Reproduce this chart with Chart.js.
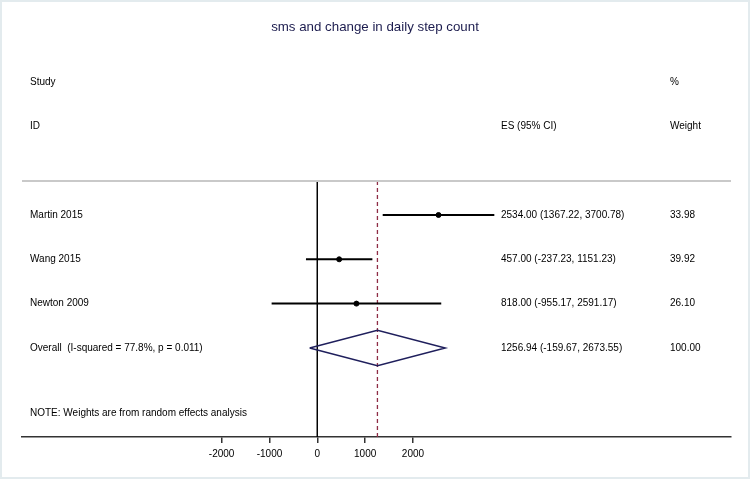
<!DOCTYPE html>
<html>
<head>
<meta charset="utf-8">
<script src="https://cdn.jsdelivr.net/npm/chart.js@4"></script>
<style>
  body { margin: 0; background: #fff; }
  #wrap { width: 750px; height: 479px; }
</style>
</head>
<body>
<div id="wrap"><canvas id="forest" width="750" height="479"></canvas></div>
<script>
// data
const studies = ["Martin 2015", "Wang 2015", "Newton 2009"];
const effect = [2534.00, 457.00, 818.00];
const ciLow = [1367.22, -237.23, -955.17];
const ciHigh = [3700.78, 1151.23, 2591.17];
const weights = ["33.98", "39.92", "26.10"];

const overallLabel = "Overall  (I-squared = 77.8%, p = 0.011)";
const overall = [1256.94, -159.67, 2673.55]; // es, low, high
const overallWeight = "100.00";

const tickValues = [-2000, -1000, 0, 1000, 2000];
const titleText = "sms and change in daily step count";
const noteText = "NOTE: Weights are from random effects analysis";

const FONT = "Liberation Sans, Arial, sans-serif";

function fmt(es, lo, hi) {
    return es.toFixed(2) + " (" + lo.toFixed(2) + ", " + hi.toFixed(2) + ")";
}

const overallRow = studies.length + 1;
const datasets = [];

// CI lines
studies.forEach((s, i) => {
    datasets.push({
        type: "line",
        data: [{ x: ciLow[i], y: i + 1 }, { x: ciHigh[i], y: i + 1 }],
        borderColor: "#000",
        borderWidth: 2,
        pointRadius: 0
    });
});

// point estimates
datasets.push({
    type: "scatter",
    data: studies.map((s, i) => ({ x: effect[i], y: i + 1 })),
    backgroundColor: "#000",
    borderColor: "#000",
    pointRadius: 2.5
});

// overall diamond
const h = 0.4;
datasets.push({
    type: "line",
    data: [
        { x: overall[1], y: overallRow },
        { x: overall[0], y: overallRow - h },
        { x: overall[2], y: overallRow },
        { x: overall[0], y: overallRow + h },
        { x: overall[1], y: overallRow }
    ],
    borderColor: "#1f1f5c",
    borderWidth: 1.5,
    pointRadius: 0,
    tension: 0
});

// null line and overall effect line
datasets.push({
    type: "line",
    data: [{ x: 0, y: 0.233 }, { x: 0, y: 6.01 }],
    borderColor: "#000",
    borderWidth: 1,
    pointRadius: 0
});
datasets.push({
    type: "line",
    data: [{ x: overall[0], y: 0.233 }, { x: overall[0], y: 6.01 }],
    borderColor: "#8e2c45",
    borderWidth: 1.3,
    borderDash: [4, 3],
    pointRadius: 0
});

const textPlugin = {
    id: "forestText",
    afterDraw(chart) {
        const ctx = chart.ctx;
        const y = chart.scales.y;
        const area = chart.chartArea;
        ctx.save();

        // outer light frame
        ctx.strokeStyle = "#e3ebee";
        ctx.lineWidth = 2;
        ctx.strokeRect(1, 1, 748, 477);

        // top separator
        ctx.strokeStyle = "#c9c9c9";
        ctx.lineWidth = 2;
        ctx.beginPath();
        ctx.moveTo(area.left, area.top);
        ctx.lineTo(area.right, area.top);
        ctx.stroke();

        // title
        ctx.fillStyle = "#1c1c4e";
        ctx.font = "13.3px " + FONT;
        ctx.textAlign = "center";
        ctx.textBaseline = "middle";
        ctx.fillText(titleText, 375, 27);

        ctx.fillStyle = "#000";
        ctx.font = "10px " + FONT;
        ctx.textAlign = "left";

        const colLeft = 30, colEs = 501, colW = 670;
        ctx.fillText("Study", colLeft, y.getPixelForValue(-2));
        ctx.fillText("ID", colLeft, y.getPixelForValue(-1));
        ctx.fillText("ES (95% CI)", colEs, y.getPixelForValue(-1));
        ctx.fillText("%", colW, y.getPixelForValue(-2));
        ctx.fillText("Weight", colW, y.getPixelForValue(-1));

        studies.forEach((s, i) => {
            const py = y.getPixelForValue(i + 1);
            ctx.fillText(s, colLeft, py);
            ctx.fillText(fmt(effect[i], ciLow[i], ciHigh[i]), colEs, py);
            ctx.fillText(weights[i], colW, py);
        });

        const oy = y.getPixelForValue(overallRow);
        ctx.fillText(overallLabel, colLeft, oy);
        ctx.fillText(fmt(overall[0], overall[1], overall[2]), colEs, oy);
        ctx.fillText(overallWeight, colW, oy);

        ctx.fillText(noteText, colLeft, y.getPixelForValue(5.47));
        ctx.restore();
    }
};

new Chart(document.getElementById("forest"), {
    data: { datasets },
    options: {
        responsive: false,
        animation: false,
        layout: { padding: { top: 181, left: 22, right: 19, bottom: 0 } },
        plugins: {
            legend: { display: false },
            title: { display: false },
            tooltip: { enabled: false }
        },
        scales: {
            x: {
                type: "linear",
                min: -6174,
                max: 8649,
                afterBuildTicks: scale => {
                    scale.ticks = tickValues.map(v => ({ value: v }));
                },
                afterFit: scale => { scale.height = 42; },
                border: { display: true, color: "#333", width: 1.5 },
                grid: { drawOnChartArea: false, drawTicks: true, tickLength: 6, color: "#333", lineWidth: 1.5 },
                ticks: {
                    color: "#000",
                    padding: 5,
                    font: { family: FONT, size: 10 },
                    callback: v => String(v)
                }
            },
            y: {
                type: "linear",
                display: false,
                reverse: true,
                min: 0.233,
                max: 6.01
            }
        }
    },
    plugins: [textPlugin]
});
</script>
</body>
</html>
